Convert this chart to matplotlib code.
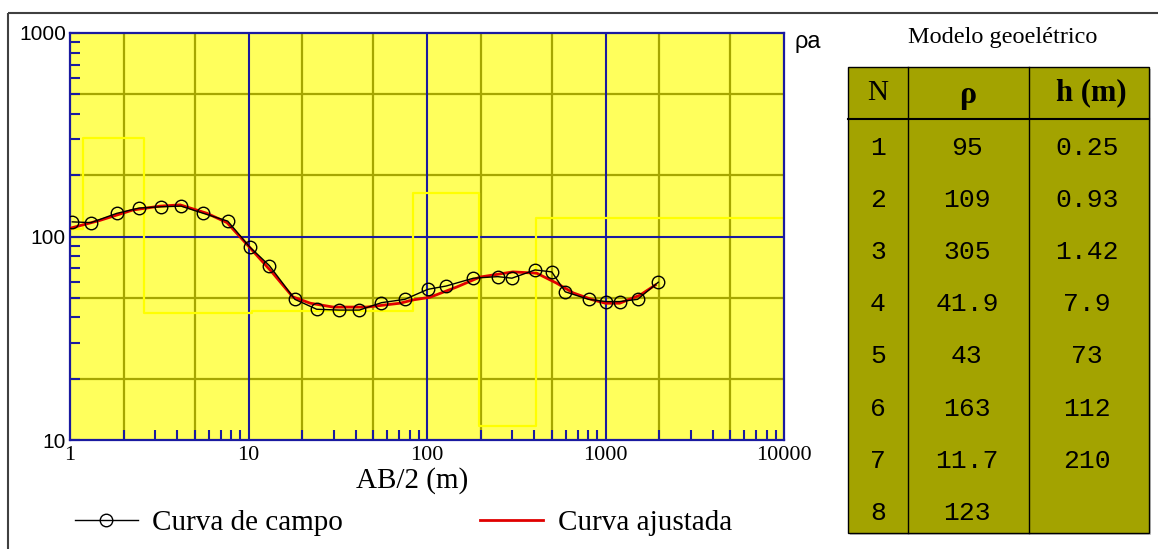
import matplotlib
matplotlib.use('Agg')
import numpy as np
import matplotlib.pyplot as plt
from matplotlib.patches import Rectangle
from matplotlib.lines import Line2D
from matplotlib.ticker import LogLocator, NullFormatter, FixedLocator, FixedFormatter

# ---------------- data ----------------
ab2_campo = [1.03, 1.31, 1.83, 2.44, 3.25, 4.19, 5.58, 7.65, 10.2, 13.1, 18.2, 24.1,
             32.2, 41.8, 55.6, 75.1, 101, 128, 182, 249, 299, 403, 500, 595, 804,
             1006, 1200, 1513, 1975]
rho_campo = [118, 117, 130, 138, 140, 141, 130, 119, 88.5, 71.9, 49.1, 43.9,
             43.5, 43.5, 47.3, 49.1, 55, 57.1, 62.4, 63.5, 62.4, 68.5, 67, 53.5, 49.1,
             47.9, 47.9, 49.1, 59.6]

ab2_ajust = [1.01, 1.47, 2.25, 3.19, 4.14, 5.85, 7.58, 10.2, 13.7, 17.7, 22.2, 29.8,
             46, 70.5, 83.6, 104, 147, 198, 303, 412, 532, 660, 850, 1000, 1200,
             1560, 1900]
rho_ajust = [110, 120, 135, 141, 143, 130, 117, 88, 66, 50.5, 47, 45,
             45, 47, 48.8, 50.3, 56.5, 63.2, 67, 66, 59, 52.8, 48.8, 47, 47,
             51.5, 57.7]

camadas_N = ['1', '2', '3', '4', '5', '6', '7', '8']
camadas_rho = ['95', '109', '305', '41.9', '43', '163', '11.7', '123']
camadas_h = ['0.25', '0.93', '1.42', '7.9', '73', '112', '210', '']

x_ticks = [1, 10, 100, 1000, 10000]
x_ticklabels = ['1', '10', '100', '1000', '10000']
y_ticks = [10, 100, 1000]
y_ticklabels = ['10', '100', '1000']

# model step curve from the table values
rho_vals = [float(v) for v in camadas_rho]
h_vals = [float(v) for v in camadas_h if v]
depths = list(np.cumsum(h_vals))
step_x = [0.01] + depths + [1e5]
step_y = rho_vals + [rho_vals[-1]]

# ---------------- style ----------------
W, H = 1158, 549
BG = '#FFFF5C'
OLIVE = '#A6A600'
BLUE = '#1A1AA0'
TABLE = '#A3A300'
serif = ['Liberation Serif', 'DejaVu Serif']
sans = ['Liberation Sans', 'DejaVu Sans']
mono = ['Liberation Mono', 'DejaVu Sans Mono']

fig = plt.figure(figsize=(W / 100, H / 100), dpi=100)
fig.patch.set_facecolor('white')

def fx(px):
    return px / W

def fy(py):
    return 1 - py / H

ax = fig.add_axes([fx(70), fy(440), fx(784) - fx(70), fy(33) - fy(440)])
ax.set_facecolor(BG)
ax.set_xscale('log')
ax.set_yscale('log')
ax.set_xlim(1, 10000)
ax.set_ylim(10, 1000)

# grid lines
for dec in [1, 10, 100, 1000]:
    for m in [2, 5]:
        ax.axvline(dec * m, color=OLIVE, lw=1.6, zorder=1)
for v in [20, 50, 200, 500]:
    ax.axhline(v, color=OLIVE, lw=1.6, zorder=1)
for v in [10, 100, 1000]:
    ax.axvline(v, color=BLUE, lw=1.5, zorder=1.5)
ax.axhline(100, color=BLUE, lw=1.5, zorder=1.5)

# model curve
ax.step(step_x, step_y, where='post', color='#FFFF00', lw=1.6, zorder=2)

# curves
ax.plot(ab2_ajust, rho_ajust, color='#E00000', lw=2.0, zorder=3, label='Curva ajustada')
ax.plot(ab2_campo, rho_campo, color='black', lw=1.0, marker='o', ms=9,
        mfc='none', mec='black', mew=1.0, zorder=4, label='Curva de campo')

for s in ax.spines.values():
    s.set_color(BLUE)
    s.set_linewidth(1.6)

ax.xaxis.set_major_locator(FixedLocator(x_ticks))
ax.xaxis.set_major_formatter(FixedFormatter(x_ticklabels))
ax.yaxis.set_major_locator(FixedLocator(y_ticks))
ax.yaxis.set_major_formatter(FixedFormatter(y_ticklabels))
ax.xaxis.set_minor_locator(LogLocator(base=10, subs=np.arange(2, 10), numticks=20))
ax.yaxis.set_minor_locator(LogLocator(base=10, subs=np.arange(2, 10), numticks=20))
ax.xaxis.set_minor_formatter(NullFormatter())
ax.yaxis.set_minor_formatter(NullFormatter())
ax.tick_params(which='both', direction='in', color=BLUE, width=1.5, length=7,
               top=False, right=False)
ax.tick_params(axis='x', which='major', length=0, pad=4, labelsize=16)
ax.tick_params(axis='y', which='major', length=7, pad=3, labelsize=15)
for t in ax.get_xticklabels():
    t.set_fontfamily(serif)
for t in ax.get_yticklabels():
    t.set_fontfamily(sans)

ax.text((412 - 70) / 714, (440 - 481) / 407, 'AB/2 (m)', transform=ax.transAxes,
        ha='center', va='center', fontsize=21, family=serif)

# overlay in pixel coords for annotations and table
ov = fig.add_axes([0, 0, 1, 1], zorder=5)
ov.set_xlim(0, W)
ov.set_ylim(H, 0)
ov.axis('off')
ov.patch.set_alpha(0)

ov.text(794, 42, 'ρa', ha='left', va='center', fontsize=17, family=sans)

# outer frame
ov.plot([8, W + 5], [13, 13], color='#404040', lw=1.5, solid_capstyle='butt')
ov.plot([8, 8], [13, H + 5], color='#404040', lw=1.5, solid_capstyle='butt')

# legend
h_campo = Line2D([], [], color='black', lw=1.0, marker='o', ms=9, mfc='none',
                 mec='black', mew=1.0)
h_ajust = Line2D([], [], color='#E00000', lw=2.0)
fig.legend([h_campo, h_ajust], ['Curva de campo', 'Curva ajustada'],
           loc='center left', bbox_to_anchor=(fx(75), fy(523)), ncol=2, frameon=False,
           borderpad=0, borderaxespad=0, handlelength=2.15, handletextpad=0.5,
           columnspacing=4.7, prop={'family': serif, 'size': 21})

# table
ov.text(1003, 37, 'Modelo geoelétrico', ha='center', va='center', fontsize=17.5,
        family=serif)
tx0, tx1, ty0, ty1 = 848, 1149, 67, 533
ov.add_patch(Rectangle((tx0 + 2, ty0 + 2), tx1 - tx0, ty1 - ty0, facecolor='#C8C8C8',
                       edgecolor='none', zorder=1))
ov.add_patch(Rectangle((tx0, ty0), tx1 - tx0, ty1 - ty0, facecolor=TABLE,
                       edgecolor='black', lw=1.0, zorder=2))
for cx in [908, 1029]:
    ov.plot([cx, cx], [ty0, ty1], color='black', lw=1.0, zorder=3)
ov.plot([tx0, tx1], [119, 119], color='black', lw=1.5, zorder=3)

ov.text(878, 93, 'N', ha='center', va='center', fontsize=21, family=serif, zorder=4)
ov.text(968, 95, 'ρ', ha='center', va='center', fontsize=23, family=serif,
        fontweight='bold', zorder=4)
ov.text(1091, 93, 'h (m)', ha='center', va='center', fontsize=22, family=serif,
        fontweight='bold', zorder=4)

row_y0, row_dy = 148, 52.1
for i, (n, r, hh) in enumerate(zip(camadas_N, camadas_rho, camadas_h)):
    yy = row_y0 + i * row_dy
    ov.text(878, yy, n, ha='center', va='center', fontsize=19, family=mono, zorder=4)
    ov.text(967, yy, r, ha='center', va='center', fontsize=19, family=mono, zorder=4)
    ov.text(1087, yy, hh, ha='center', va='center', fontsize=19, family=mono, zorder=4)

fig.savefig('out.png', dpi=100)
